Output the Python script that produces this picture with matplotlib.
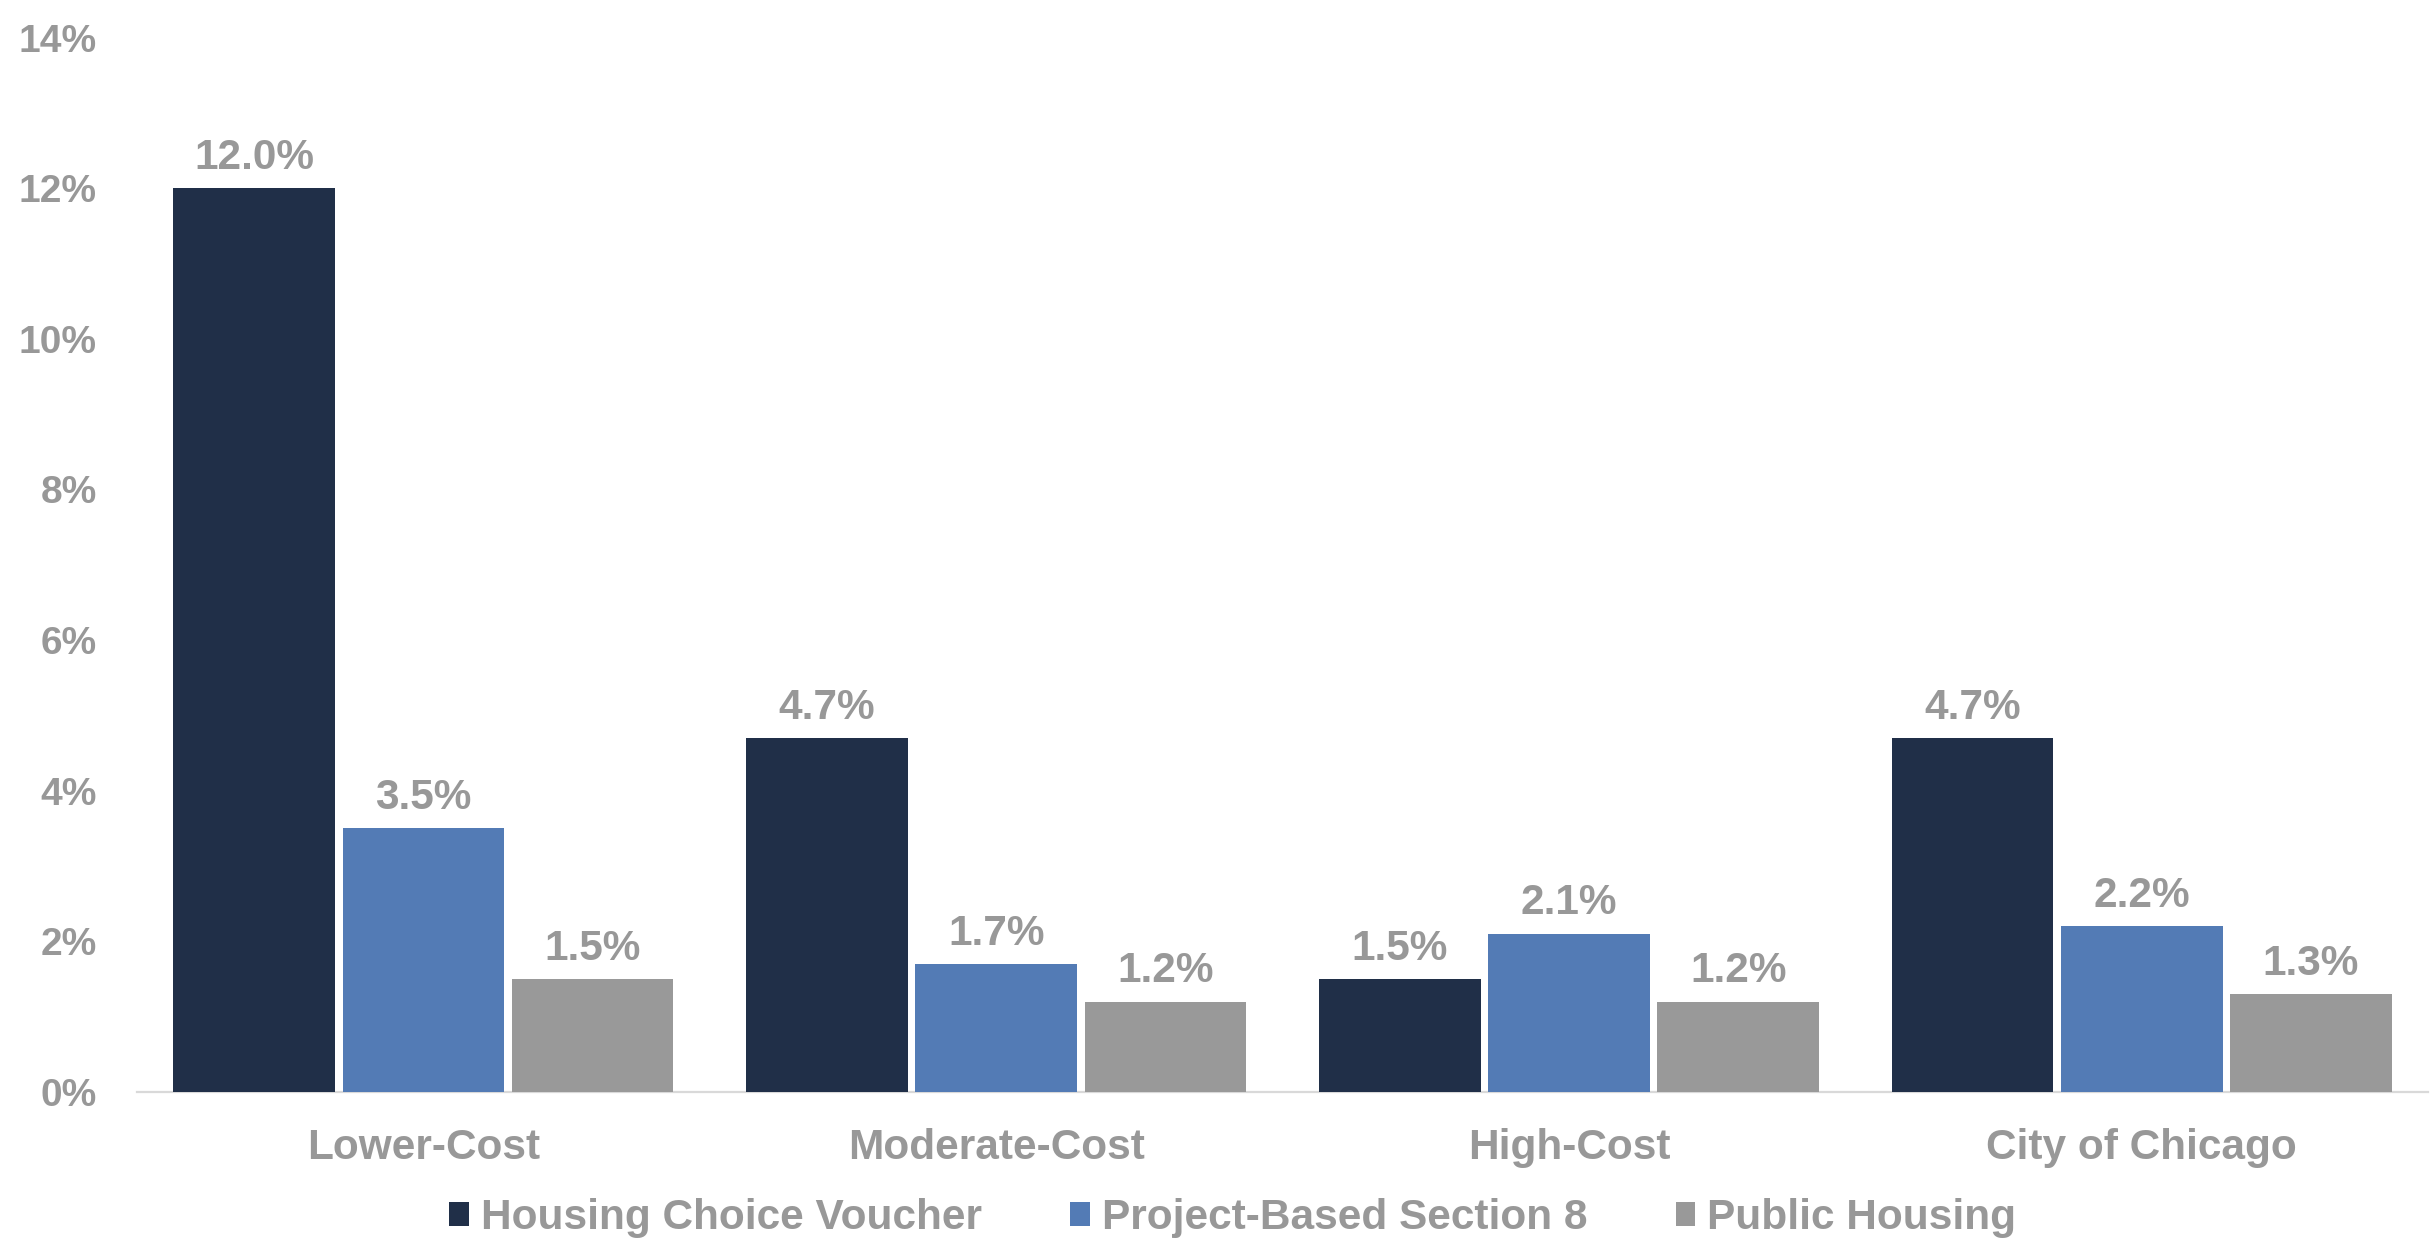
import numpy as np
import matplotlib
matplotlib.use('Agg')
import matplotlib.pyplot as plt
from matplotlib.ticker import FuncFormatter

# --- данни ---
categories = ['Lower-Cost', 'Moderate-Cost', 'High-Cost', 'City of Chicago']
series_names = ['Housing Choice Voucher', 'Project-Based Section 8', 'Public Housing']
hcv_pct = [12.0, 4.7, 1.5, 4.7]
pbs8_pct = [3.5, 1.7, 2.1, 2.2]
public_pct = [1.5, 1.2, 1.2, 1.3]
y_ticks = [0, 2, 4, 6, 8, 10, 12, 14]

colors = ['#202f48', '#537bb5', '#999999']
text_gray = '#989898'

plt.rcParams['font.family'] = ['Liberation Sans', 'DejaVu Sans']
plt.rcParams['font.weight'] = 'bold'

fig = plt.figure(figsize=(24.33, 12.38), dpi=100, facecolor='white')
ax = fig.add_axes([0.0563, 0.1179, 0.9417, 0.8518])

x = np.arange(len(categories))
bar_w = 0.282
step = 0.2954

for i, (vals, name) in enumerate(zip([hcv_pct, pbs8_pct, public_pct], series_names)):
    pos = x + (i - 1) * step
    bars = ax.bar(pos, vals, width=bar_w, color=colors[i], label=name, zorder=3)
    for b, v in zip(bars, vals):
        ax.annotate(f'{v:.1f}%', (b.get_x() + b.get_width() / 2, v),
                    xytext=(0, 14), textcoords='offset points',
                    ha='center', va='baseline', fontsize=30.5,
                    fontweight='bold', color=text_gray)

ax.set_xlim(-0.5, len(categories) - 0.5)
ax.set_ylim(0, 14)
ax.set_yticks(y_ticks)
ax.yaxis.set_major_formatter(FuncFormatter(lambda v, _: f'{v:.0f}%'))
ax.set_xticks(x)
ax.set_xticklabels(categories)

for s in ['top', 'right', 'left']:
    ax.spines[s].set_visible(False)
ax.spines['bottom'].set_color('#d9d9d9')
ax.spines['bottom'].set_linewidth(1.6)

ax.tick_params(axis='y', length=0, pad=29, labelsize=28, labelcolor=text_gray)
ax.tick_params(axis='x', length=0, pad=26, labelsize=30.5, labelcolor=text_gray)
for lbl in ax.get_xticklabels() + ax.get_yticklabels():
    lbl.set_fontweight('bold')

leg = fig.legend(loc='center', bbox_to_anchor=(0.5067, 0.0160), ncol=3,
                 frameon=False, fontsize=30.5, handlelength=0.47,
                 handleheight=0.47, handletextpad=0.28, columnspacing=2.08,
                 borderpad=0)
for t in leg.get_texts():
    t.set_color(text_gray)
    t.set_fontweight('bold')

fig.savefig('out.png', dpi=100, facecolor='white')
